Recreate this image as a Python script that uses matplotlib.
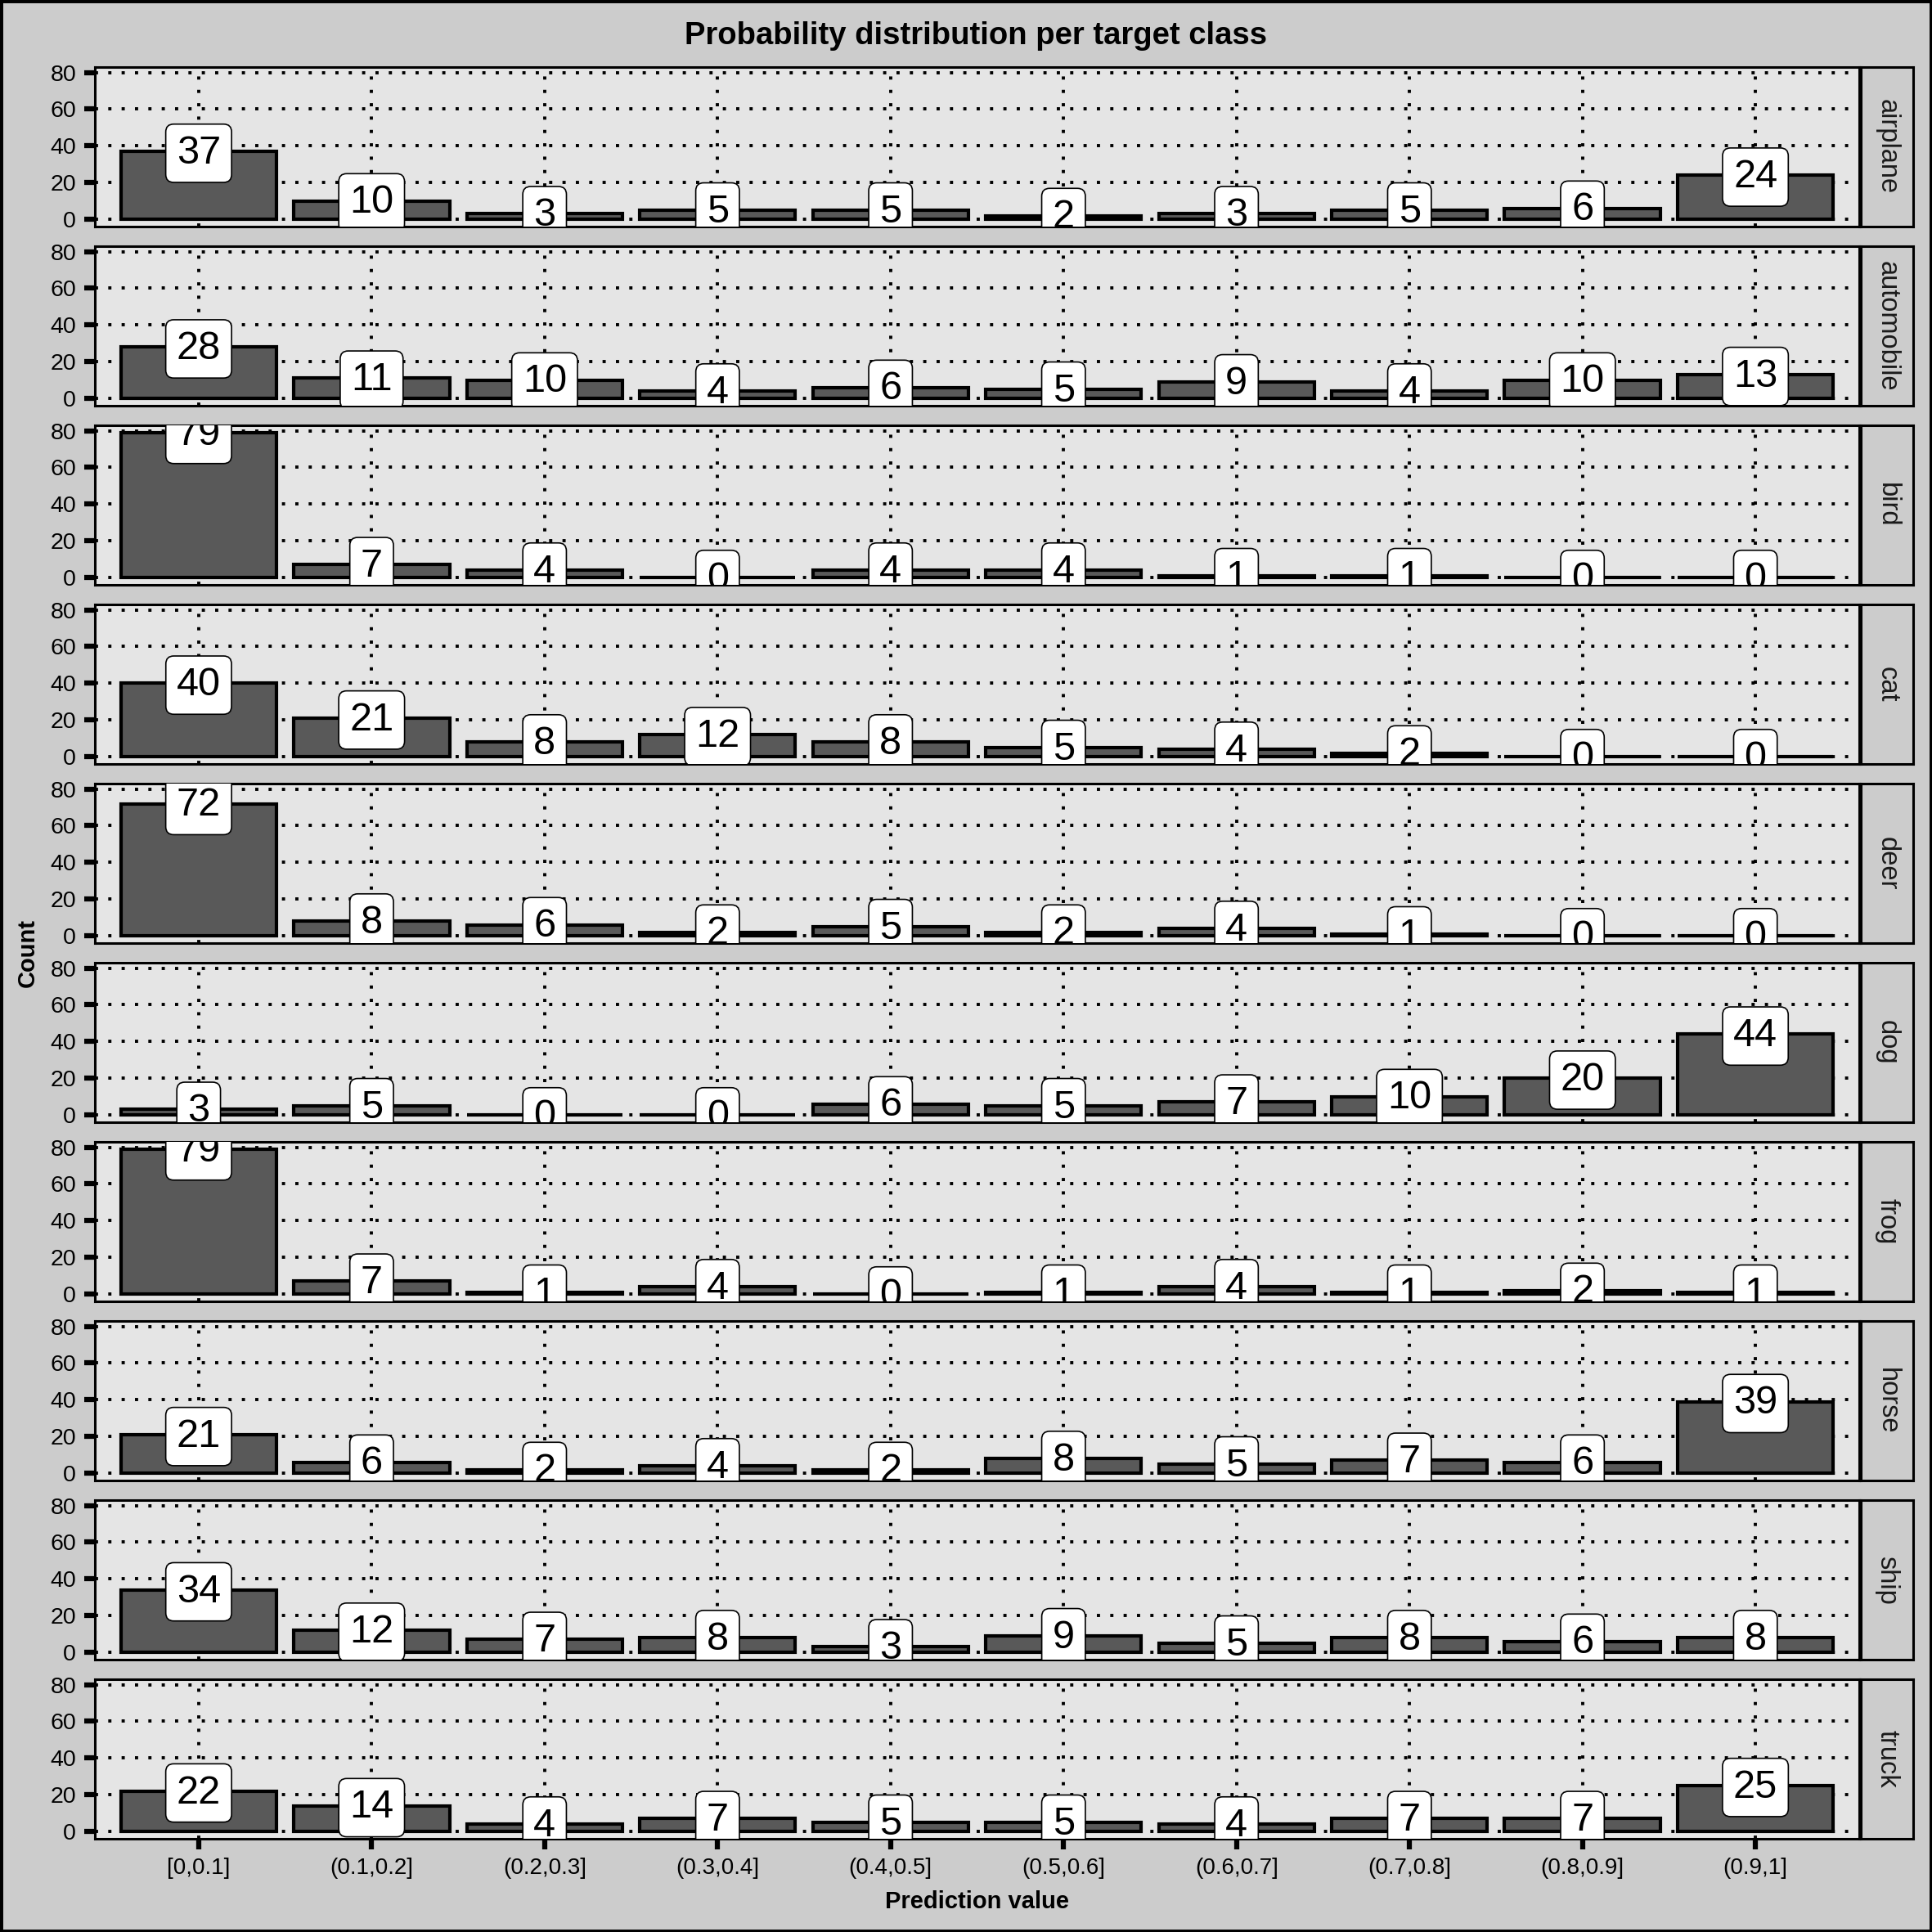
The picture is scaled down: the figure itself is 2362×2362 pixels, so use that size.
import matplotlib
matplotlib.use("Agg")
import matplotlib.pyplot as plt
from matplotlib.patches import Rectangle
import numpy as np

plt.rcParams['font.family'] = ['Liberation Sans', 'DejaVu Sans']

classes = ["airplane", "automobile", "bird", "cat", "deer",
           "dog", "frog", "horse", "ship", "truck"]
bins = ["[0,0.1]", "(0.1,0.2]", "(0.2,0.3]", "(0.3,0.4]", "(0.4,0.5]",
        "(0.5,0.6]", "(0.6,0.7]", "(0.7,0.8]", "(0.8,0.9]", "(0.9,1]"]

airplane = [37, 10, 3, 5, 5, 2, 3, 5, 6, 24]
automobile = [28, 11, 10, 4, 6, 5, 9, 4, 10, 13]
bird = [79, 7, 4, 0, 4, 4, 1, 1, 0, 0]
cat = [40, 21, 8, 12, 8, 5, 4, 2, 0, 0]
deer = [72, 8, 6, 2, 5, 2, 4, 1, 0, 0]
dog = [3, 5, 0, 0, 6, 5, 7, 10, 20, 44]
frog = [79, 7, 1, 4, 0, 1, 4, 1, 2, 1]
horse = [21, 6, 2, 4, 2, 8, 5, 7, 6, 39]
ship = [34, 12, 7, 8, 3, 9, 5, 8, 6, 8]
truck = [22, 14, 4, 7, 5, 5, 4, 7, 7, 25]

counts = [airplane, automobile, bird, cat, deer, dog, frog, horse, ship, truck]
yticks = [0, 20, 40, 60, 80]

W = 2362.0
fig = plt.figure(figsize=(W / 100, W / 100), dpi=100, facecolor="#CCCCCC")

# pixel layout
left, right = 116, 2273
strip_l, strip_r = 2275, 2339
top0, ph, gap = 82, 195, 24

ymax = max(max(c) for c in counts)
ylim = (-0.05 * ymax, ymax * 1.05)
x = np.arange(len(bins))
dots = (0, (1, 3.2))

for i, (cls, vals) in enumerate(zip(classes, counts)):
    top = top0 + i * (ph + gap)
    ax = fig.add_axes([left / W, 1 - (top + ph) / W, (right - left) / W, ph / W])
    ax.set_facecolor("#E5E5E5")
    ax.set_xlim(-0.6, len(bins) - 0.4)
    ax.set_ylim(*ylim)
    ax.set_axisbelow(True)
    ax.grid(True, color="black", linestyle=dots, linewidth=2.8)
    ax.bar(x, vals, width=0.9, color="#595959", edgecolor="black", linewidth=3.0, zorder=2)
    for xi, v in zip(x, vals):
        ax.text(xi, v - 1.0, str(v), ha="center", va="center", fontsize=35, color="black", zorder=4,
                clip_on=True,
                bbox=dict(boxstyle="round,pad=0.27,rounding_size=0.2", fc="white", ec="black", lw=1.2))
    for s in ax.spines.values():
        s.set_linewidth(2.2)
        s.set_color("black")
    ax.set_yticks(yticks)
    ax.set_yticklabels([str(t) for t in yticks], fontsize=20.5, color="black")
    ax.tick_params(axis="y", length=9.5, width=4.5, pad=7, color="black")
    ax.set_xticks(x)
    if i == len(classes) - 1:
        ax.set_xticklabels(bins, fontsize=20, color="black")
        ax.tick_params(axis="x", length=9.5, width=4.5, pad=7, color="black")
        ax.set_xlabel("Prediction value", fontsize=21, fontweight="bold", labelpad=10)
    else:
        ax.tick_params(axis="x", length=0, labelbottom=False)

    sax = fig.add_axes([strip_l / W, 1 - (top + ph) / W, (strip_r - strip_l) / W, ph / W])
    sax.set_facecolor("#CCCCCC")
    sax.set_xticks([])
    sax.set_yticks([])
    for s in sax.spines.values():
        s.set_linewidth(2.2)
        s.set_color("black")
    sax.text(0.5, 0.5, cls, rotation=-90, ha="center", va="center", fontsize=23.5,
             color="#1A1A1A", transform=sax.transAxes)

fig.text(1193 / W, 1 - 44 / W, "Probability distribution per target class",
         ha="center", va="center", fontsize=27.5, fontweight="bold")
fig.text(34 / W, 1 - 1165 / W, "Count", rotation=90, ha="center", va="center",
         fontsize=21, fontweight="bold")

fig.patches.append(Rectangle((0, 0), 1, 1, transform=fig.transFigure, fill=False,
                             edgecolor="black", linewidth=5))

fig.savefig("out.png", dpi=100, facecolor=fig.get_facecolor())
